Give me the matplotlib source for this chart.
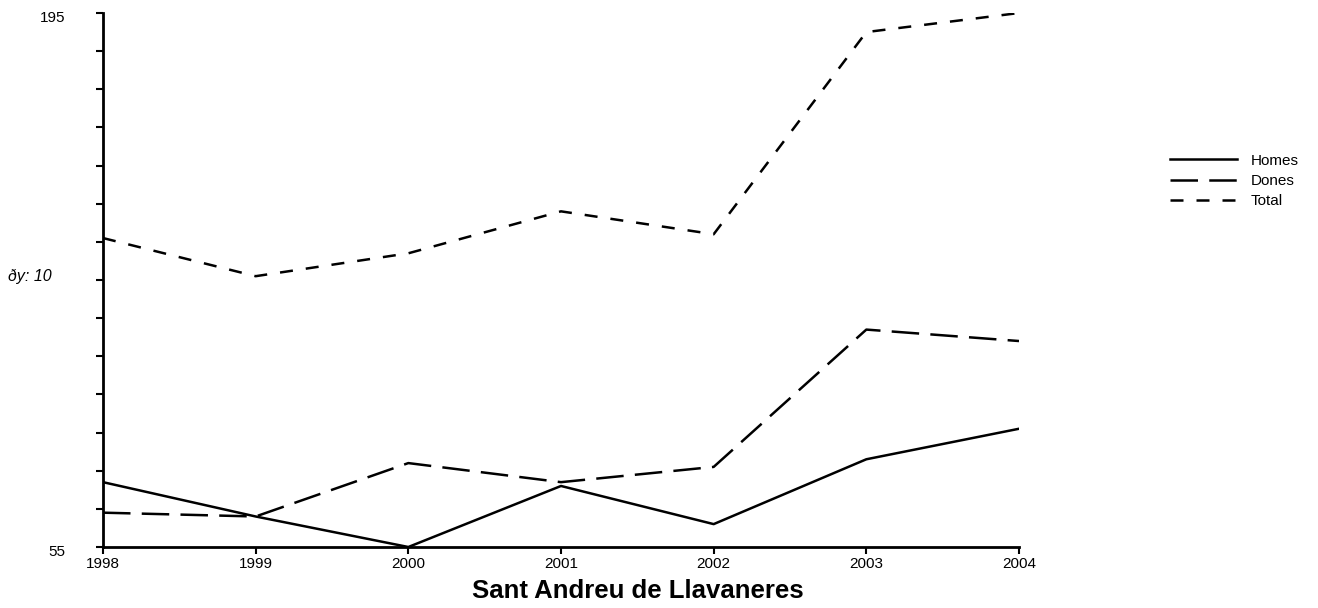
import numpy as np
import matplotlib.pyplot as plt
from matplotlib.transforms import ScaledTranslation

plt.rcParams['font.family'] = ['Liberation Sans', 'DejaVu Sans']

years = [1998, 1999, 2000, 2001, 2002, 2003, 2004]
homes = [72, 63, 55, 71, 61, 78, 86]
dones = [64, 63, 77, 72, 76, 112, 109]
total = [136, 126, 132, 143, 137, 190, 195]

W, H = 1318, 608
fig = plt.figure(figsize=(W / 100, H / 100), dpi=100)
ax = fig.add_axes([103 / W, 1 - 547 / H, (1019 - 103) / W, (547 - 13) / H])

ax.plot(years, homes, color='black', lw=1.8, label='Homes')
ax.plot(years, dones, color='black', lw=1.8, dashes=(11, 4.5), label='Dones')
ax.plot(years, total, color='black', lw=1.8, dashes=(5.2, 5.2), label='Total')

ax.set_xlim(1998, 2004)
ax.set_ylim(55, 195)
ax.set_xticks(years)
yt = np.arange(55, 196, 10)
ax.set_yticks(yt)
ax.set_yticklabels(['55'] + [''] * (len(yt) - 2) + ['195'])
ax.tick_params(axis='y', length=5, width=1.5, pad=22, labelsize=11)
ax.tick_params(axis='x', length=5, width=1.5, labelsize=11, pad=2)
# y labels sit a little below their ticks
for lab in ax.get_yticklabels():
    lab.set_transform(lab.get_transform() + ScaledTranslation(0, -3 / 100, fig.dpi_scale_trans))

for s in ['top', 'right']:
    ax.spines[s].set_visible(False)
for s in ['left', 'bottom']:
    ax.spines[s].set_linewidth(2)

fig.text(8 / W, 1 - 276 / H, 'ðy: 10', style='italic', fontsize=11.5, va='center')
fig.text(638 / W, 1 - 591 / H, 'Sant Andreu de Llavaneres', fontsize=18.5,
         fontweight='bold', ha='center', va='center')

ax.legend(loc='center left', bbox_to_anchor=(1156 / W, 1 - 181 / H),
          bbox_transform=fig.transFigure, frameon=False, fontsize=11,
          handlelength=4.4, labelspacing=0.42, handletextpad=0.9)

fig.savefig('out.png', dpi=100)
